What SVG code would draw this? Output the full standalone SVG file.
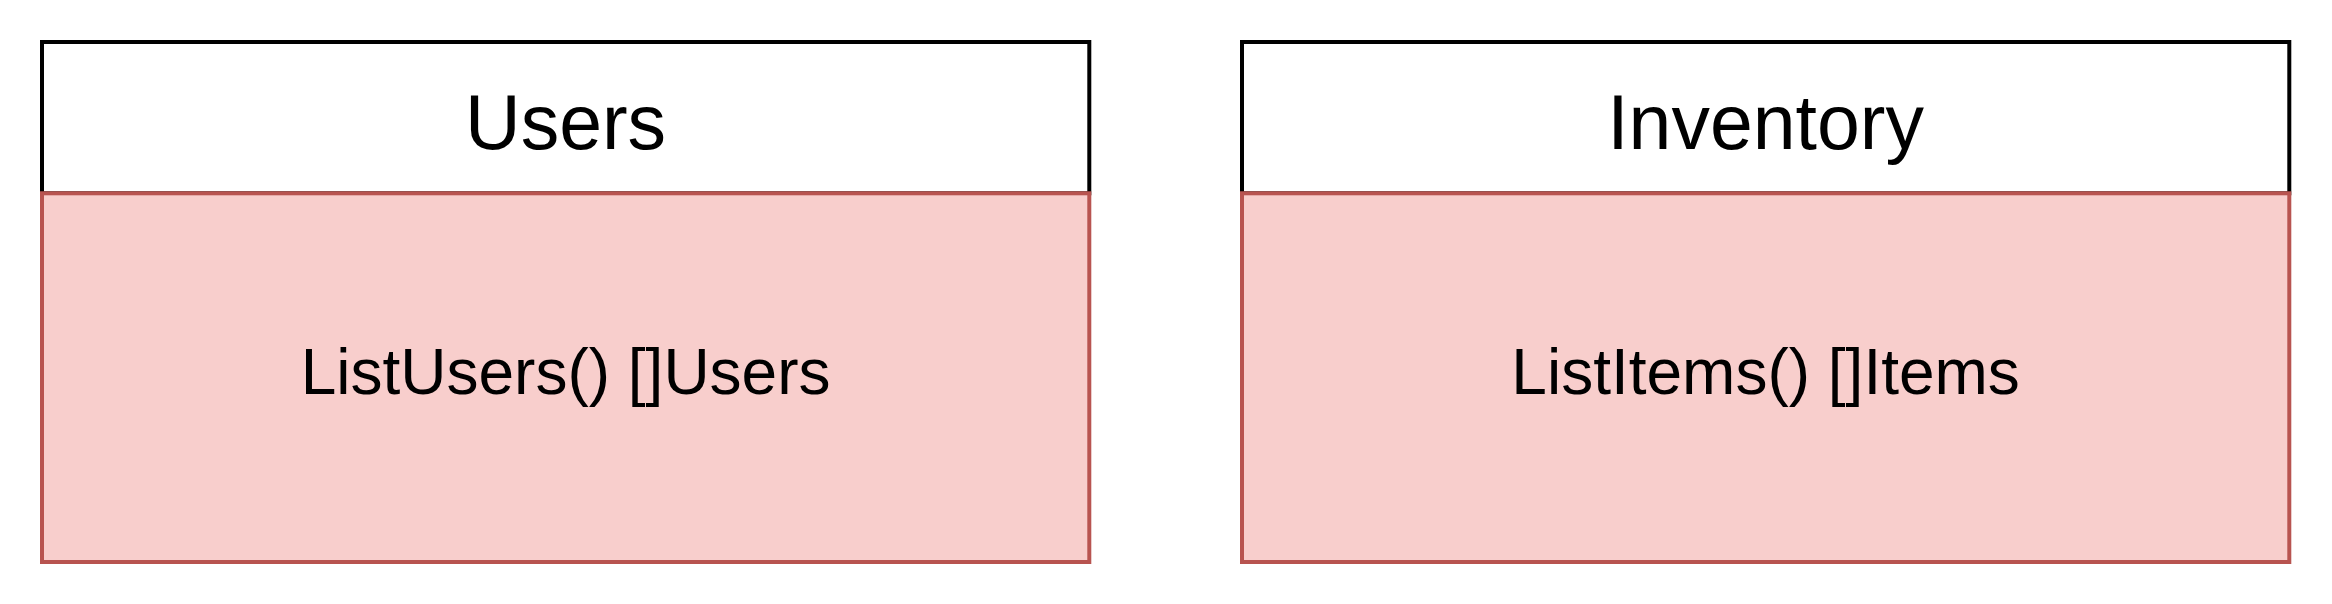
<svg xmlns="http://www.w3.org/2000/svg" width="2332" height="604" viewBox="0 0 2332 604">
<style>
.hdr{fill:#ffffff;stroke:#000000;stroke-width:4}
.body{fill:#f8cecc;stroke:#b85450;stroke-width:4}
.t1{font-family:"Liberation Sans",Arial,Helvetica,sans-serif;font-size:77px;fill:#000000;text-anchor:middle}
.t2{font-family:"Liberation Sans",Arial,Helvetica,sans-serif;font-size:64px;fill:#000000;text-anchor:middle}
</style>
<rect width="2332" height="604" fill="#ffffff"/>
<g id="users">
<rect class="hdr" x="42" y="42" width="1047.3" height="151.3"/>
<rect class="body" x="42" y="193.3" width="1047.3" height="368.7"/>
<text class="t1" x="565.6" y="149.3">Users</text>
<text class="t2" x="565.6" y="394">ListUsers() []Users</text>
</g>
<g id="inventory">
<rect class="hdr" x="1242" y="42" width="1047.3" height="151.3"/>
<rect class="body" x="1242" y="193.3" width="1047.3" height="368.7"/>
<text class="t1" x="1765.6" y="149.3">Inventory</text>
<text class="t2" x="1765.6" y="394">ListItems() []Items</text>
</g>
<g id="connectors"></g>
</svg>
